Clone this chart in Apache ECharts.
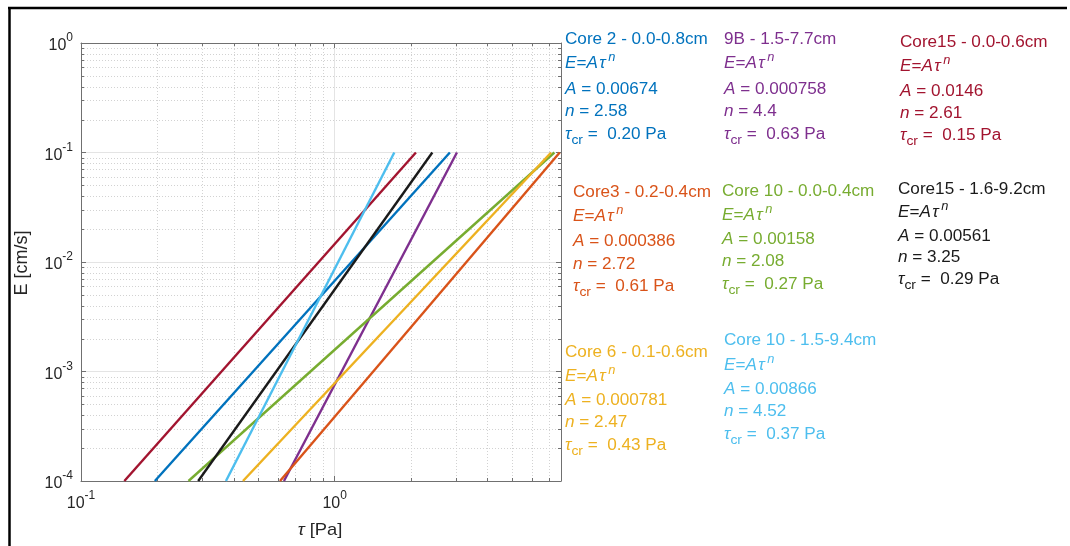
<!DOCTYPE html>
<html><head><meta charset="utf-8">
<script src="https://cdn.jsdelivr.net/npm/echarts@6/dist/echarts.min.js"></script>
<style>html,body{margin:0;padding:0;background:#fff}#c{width:1070px;height:546px}</style>
</head><body><div id="c"></div>
<script>
// ---- data ----
const coreNames = ['Core 2 - 0.0-0.8cm', '9B - 1.5-7.7cm', 'Core15 - 0.0-0.6cm', 'Core3 - 0.2-0.4cm',
                   'Core 10 - 0.0-0.4cm', 'Core15 - 1.6-9.2cm', 'Core 6 - 0.1-0.6cm', 'Core 10 - 1.5-9.4cm'];
const coefA = ['0.00674', '0.000758', '0.0146', '0.000386', '0.00158', '0.00561', '0.000781', '0.00866'];
const expN = ['2.58', '4.4', '2.61', '2.72', '2.08', '3.25', '2.47', '4.52'];
const tauCr = ['0.20', '0.63', '0.15', '0.61', '0.27', '0.29', '0.43', '0.37'];
// line end points (tau at E = 1e-4 and at E = 0.1)
const tauAtLow = [0.1955, 0.631, 0.1482, 0.6087, 0.2653, 0.2897, 0.435, 0.3727];
const tauAtHigh = [2.845, 3.033, 2.090, 7.71, 7.345, 2.426, 7.131, 1.718];
const eRange = [1e-4, 0.1];
const xLimits = [0.1, 7.8];
const yLimits = [1e-4, 1];
const minorX = [0.2, 0.3, 0.4, 0.5, 0.6, 0.7, 0.8, 0.9, 2, 3, 4, 5, 6, 7];
const minorY = [2e-4, 3e-4, 4e-4, 5e-4, 6e-4, 7e-4, 8e-4, 9e-4,
                2e-3, 3e-3, 4e-3, 5e-3, 6e-3, 7e-3, 8e-3, 9e-3,
                2e-2, 3e-2, 4e-2, 5e-2, 6e-2, 7e-2, 8e-2, 9e-2,
                0.2, 0.3, 0.4, 0.5, 0.6, 0.7, 0.8, 0.9];

// ---- styles / layout ----
const colors = ['#0072BD', '#7E2F8E', '#A2142F', '#D95319', '#77AC30', '#1a1a1a', '#EDB120', '#4DBEEE'];
const blockLayout = [
  {x: 565, ys: [40, 64, 90, 112, 135]},
  {x: 724, ys: [40, 64, 90, 112, 135]},
  {x: 900, ys: [43, 67, 92, 114, 136]},
  {x: 573, ys: [193, 217, 242, 265, 287]},
  {x: 722, ys: [192, 216, 240, 262, 285]},
  {x: 898, ys: [190, 213, 237, 258, 280]},
  {x: 565, ys: [353, 377, 401, 423, 446]},
  {x: 724, ys: [341, 366, 390, 412, 435]}
];
const FONT = 'Liberation Sans, Arial, sans-serif';
const AX = '#707070';
const LBL = '#262626';

const chart = echarts.init(document.getElementById('c'), null, {renderer: 'canvas'});

function powLabel(v) {
  const l = Math.log10(v);
  const e = Math.round(l);
  if (Math.abs(l - e) > 1e-6) return '';
  return '{b|10}{s|' + e + '}';
}
const tickRich = {
  b: {fontSize: 16, lineHeight: 22, verticalAlign: 'bottom', fontFamily: FONT, color: LBL},
  s: {fontSize: 12, lineHeight: 12, verticalAlign: 'top', fontFamily: FONT, color: LBL}
};

const textRich = {
  t: {fontSize: 16, lineHeight: 24, fontFamily: FONT},
  it: {fontSize: 16, lineHeight: 24, fontStyle: 'italic', fontFamily: FONT},
  sup: {fontSize: 12, lineHeight: 12, verticalAlign: 'top', fontStyle: 'italic', fontFamily: FONT},
  sub: {fontSize: 13, lineHeight: 4, verticalAlign: 'bottom', fontFamily: FONT}
};

const graphics = [];
// outer frame (left + top)
graphics.push({type: 'line', shape: {x1: 9.5, y1: 7, x2: 9.5, y2: 546}, style: {stroke: '#000', lineWidth: 2.5}, silent: true});
graphics.push({type: 'line', shape: {x1: 8, y1: 8, x2: 1067, y2: 8}, style: {stroke: '#000', lineWidth: 2.5}, silent: true});
// axis names
graphics.push({type: 'text', x: 22, y: 263, rotation: Math.PI / 2,
  style: {text: 'E [cm/s]', font: '18px ' + FONT, fill: LBL, align: 'center', verticalAlign: 'middle'}});
graphics.push({type: 'text', x: 320, y: 530, scaleX: 1.08,
  style: {text: '{it|τ}{t| [Pa]}', fill: LBL, align: 'center', verticalAlign: 'middle',
    rich: {t: {fontSize: 17, fontFamily: FONT}, it: {fontSize: 17, fontStyle: 'italic', fontFamily: FONT}}}});

coreNames.forEach((name, i) => {
  const L = blockLayout[i];
  const lines = [
    '{t|' + name + '}',
    '{it|E}{t|=}{it|A\u200Aτ}{sup|\u2009n}',
    '{it|A}{t| = ' + coefA[i] + '}',
    '{it|n}{t| = ' + expN[i] + '}',
    '{it|τ}{sub|cr}{t| =  ' + tauCr[i] + ' Pa}'
  ];
  lines.forEach((txt, k) => {
    graphics.push({type: 'text', x: L.x, y: L.ys[k], scaleX: 1.07,
      style: {text: txt, rich: textRich, fill: colors[i], align: 'left', verticalAlign: 'middle'}});
  });
});

function minorXRender(params, api) {
  const v = api.value(0);
  const top = api.coord([v, yLimits[1]]);
  const bot = api.coord([v, yLimits[0]]);
  const x = Math.round(top[0]) + 0.5;
  return {type: 'group', children: [
    {type: 'line', shape: {x1: x, y1: top[1], x2: x, y2: bot[1]}, style: {stroke: '#d2d2d2', lineWidth: 1, lineDash: [1, 2]}},
    {type: 'line', shape: {x1: x, y1: bot[1], x2: x, y2: bot[1] - 3}, style: {stroke: AX, lineWidth: 1}},
    {type: 'line', shape: {x1: x, y1: top[1], x2: x, y2: top[1] + 3}, style: {stroke: AX, lineWidth: 1}}
  ]};
}
function minorYRender(params, api) {
  const v = api.value(1);
  const l = api.coord([xLimits[0], v]);
  const r = api.coord([xLimits[1], v]);
  const y = Math.round(l[1]) + 0.5;
  return {type: 'group', children: [
    {type: 'line', shape: {x1: l[0], y1: y, x2: r[0], y2: y}, style: {stroke: '#d2d2d2', lineWidth: 1, lineDash: [1, 2]}},
    {type: 'line', shape: {x1: l[0], y1: y, x2: l[0] + 3, y2: y}, style: {stroke: AX, lineWidth: 1}},
    {type: 'line', shape: {x1: r[0], y1: y, x2: r[0] - 3, y2: y}, style: {stroke: AX, lineWidth: 1}}
  ]};
}

const lineSeries = coreNames.map((name, i) => ({
  name: name, type: 'line', showSymbol: false, symbol: 'none', animation: false,
  lineStyle: {color: colors[i], width: 2.4}, itemStyle: {color: colors[i]}, z: 5,
  data: [[tauAtLow[i], eRange[0]], [tauAtHigh[i], eRange[1]]]
}));

const baseX = {type: 'log', logBase: 10, min: xLimits[0], max: xLimits[1], interval: 1};
const baseY = {type: 'log', logBase: 10, min: yLimits[0], max: yLimits[1], interval: 1};

chart.setOption({
  animation: false,
  backgroundColor: '#fff',
  grid: {left: 81, top: 43, width: 480, height: 438, containLabel: false},
  xAxis: [
    Object.assign({}, baseX, {position: 'bottom',
      axisLine: {show: true, onZero: false, lineStyle: {color: AX, width: 1}},
      axisTick: {show: true, inside: true, length: 5, lineStyle: {color: AX}},
      splitLine: {show: true, lineStyle: {color: '#e4e4e4', width: 1}},
      axisLabel: {show: true, margin: 9, fontSize: 16, formatter: powLabel, rich: tickRich, showMinLabel: true, showMaxLabel: true}}),
    Object.assign({}, baseX, {position: 'top',
      axisLine: {show: true, onZero: false, lineStyle: {color: AX, width: 1}},
      axisTick: {show: true, inside: true, length: 5, lineStyle: {color: AX}},
      splitLine: {show: false}, axisLabel: {show: false}})
  ],
  yAxis: [
    Object.assign({}, baseY, {position: 'left',
      axisLine: {show: true, onZero: false, lineStyle: {color: AX, width: 1}},
      axisTick: {show: true, inside: true, length: 5, lineStyle: {color: AX}},
      splitLine: {show: true, lineStyle: {color: '#e4e4e4', width: 1}},
      axisLabel: {show: true, margin: 8, fontSize: 16, formatter: powLabel, rich: tickRich, showMinLabel: true, showMaxLabel: true}}),
    Object.assign({}, baseY, {position: 'right',
      axisLine: {show: true, onZero: false, lineStyle: {color: AX, width: 1}},
      axisTick: {show: true, inside: true, length: 5, lineStyle: {color: AX}},
      splitLine: {show: false}, axisLabel: {show: false}})
  ],
  series: [
    {type: 'custom', renderItem: minorXRender, data: minorX.map(v => [v, yLimits[0]]), encode: {x: 0, y: 1}, z: 1, silent: true, animation: false},
    {type: 'custom', renderItem: minorYRender, data: minorY.map(v => [xLimits[0], v]), encode: {x: 0, y: 1}, z: 1, silent: true, animation: false}
  ].concat(lineSeries),
  graphic: graphics
});
</script>
</body></html>
